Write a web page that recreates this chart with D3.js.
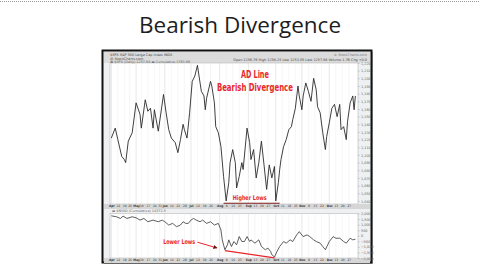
<!DOCTYPE html>
<html>
<head>
<meta charset="utf-8">
<script src="https://cdn.jsdelivr.net/npm/d3@7/dist/d3.min.js"></script>
<style>
  html, body { margin: 0; padding: 0; background: #fff; }
  svg { display: block; }
</style>
</head>
<body>
<svg id="slide" width="480" height="270"></svg>
<script>
// S&P 500 close, trading day index counted from Apr 1
var priceDays = [1,4,6,9,11,12,14,17,20,23,24,27,29,31,33,34,37,41,43,45,47,50,52,54,56,57,59,61,63,65,67,69,70,72,73,74,77,78,80,81,83,85,87,89,91,92,94,96,97,99,101,102,105,107,108,110,112,114,116,118,120,122,124,126,127,129,130,131,133,135,137,139,140,142,144,145,147,148,150,152,154,156,158,159,161,163,165,166,168,170,172,174,176,177,179,181,182,184,186,187,188];
var priceValues = [1122,1135,1120,1098,1094,1090,1118,1129,1168,1153,1135,1172,1157,1161,1135,1159,1131,1179,1155,1133,1122,1116,1103,1120,1140,1133,1122,1155,1196,1203,1217,1194,1183,1177,1159,1174,1196,1190,1168,1137,1129,1111,1072,1040,1064,1090,1107,1090,1057,1072,1090,1081,1135,1116,1094,1107,1070,1090,1118,1087,1055,1087,1070,1085,1040,1064,1081,1094,1111,1120,1133,1137,1146,1161,1190,1177,1159,1177,1194,1183,1170,1200,1185,1163,1155,1129,1107,1124,1142,1161,1166,1150,1166,1133,1137,1120,1144,1168,1177,1159,1177];

// NYSE Advance-Decline line (cumulative)
var adDays = [1,5,8,10,13,17,20,23,26,29,33,37,40,42,45,48,51,54,56,58,60,62,64,66,69,71,74,77,80,83,85,86,88,90,91,93,95,97,99,101,103,105,107,108,111,114,116,119,121,123,124,126,128,130,133,135,138,140,143,145,148,151,153,156,158,161,163,165,168,171,173,176,179,181,184,186,188];
var adValues = [1793,1704,1556,1763,1556,1704,1615,1407,1556,1259,1407,1259,1407,1259,963,1111,815,963,1259,1111,1111,1407,1556,1407,1259,1407,1111,1259,963,1111,518,-370,-1259,-815,-370,-963,-519,-815,-74,-519,-519,-74,-519,-370,-667,-370,-963,-1259,-1111,-1407,-1704,-1911,-1407,-963,-519,-667,-370,-519,74,370,-74,74,-74,-370,-519,-667,-963,-1259,-519,-74,-222,-222,-519,-667,-222,-370,-311];

// date axis
var axisDays = [1,6,11,15,20,24,29,34,38,42,47,52,57,62,67,72,77,84,89,94,99,106,111,116,121,127,132,137,142,147,152,157,162,168,173,178,183];
var axisLabels = ["Apr","12","19","26","May","10","17","24","31","Jun","14","21","28","Jul","12","19","26","Aug","9","16","23","Sep","13","20","27","Oct","11","18","25","Nov","8","15","22","Dec","13","20","27"];
var monthLabels = ["Apr","May","Jun","Jul","Aug","Sep","Oct","Nov","Dec"];

var priceTicks = [1040,1050,1060,1070,1080,1090,1100,1110,1120,1130,1140,1150,1160,1170,1180,1190,1200,1210,1220];
var adTicks = [-2000,-1500,-1000,-500,0,500,1000,1500,2000];

var svg = d3.select("#slide");
var red = "#e8262b";

// dotted rule at the top of the slide
svg.append("line")
    .attr("x1", 0).attr("x2", 480).attr("y1", 1.5).attr("y2", 1.5)
    .attr("stroke", "#999").attr("stroke-width", 1)
    .attr("stroke-dasharray", "1,1");

svg.append("text")
    .attr("x", 240).attr("y", 33)
    .attr("text-anchor", "middle")
    .attr("font-family", "'Open Sans', sans-serif")
    .attr("font-size", 22.5)
    .attr("fill", "#1e1e1e")
    .text("Bearish Divergence");

// chart frame
svg.append("rect")
    .attr("x", 104).attr("y", 52).attr("width", 269).attr("height", 212)
    .attr("fill", "#bbb");
svg.append("rect")
    .attr("x", 102.5).attr("y", 50.5).attr("width", 269).attr("height", 212)
    .attr("fill", "#eef0f2").attr("stroke", "#111").attr("stroke-width", 2);
svg.append("rect")
    .attr("x", 104).attr("y", 52).attr("width", 266).attr("height", 11)
    .attr("fill", "#dcdcdc");

var x = d3.scaleLinear().domain([0, 190]).range([110, 358]);
var yP = d3.scaleLinear().domain([1036, 1220]).range([204, 63]);
var yA = d3.scaleLinear().domain([-2000, 2000]).range([258, 213.5]);

function panel(top, bottom) {
  svg.append("rect")
      .attr("x", x.range()[0]).attr("y", top)
      .attr("width", x.range()[1] - x.range()[0]).attr("height", bottom - top)
      .attr("fill", "#fff").attr("stroke", "#aaa").attr("stroke-width", 0.5);
  svg.append("g").selectAll("line")
      .data(axisDays)
      .enter().append("line")
      .attr("x1", function(d) { return x(d); })
      .attr("x2", function(d) { return x(d); })
      .attr("y1", top).attr("y2", bottom)
      .attr("stroke", function(d, i) { return monthLabels.indexOf(axisLabels[i]) >= 0 ? "#d0d0d0" : "#ececec"; })
      .attr("stroke-width", 0.5);
}

function dateAxis(yPos) {
  svg.append("rect")
      .attr("x", 104).attr("y", yPos).attr("width", 266).attr("height", 5)
      .attr("fill", "#d6d6d6");
  var g = svg.append("g")
      .attr("transform", "translate(0," + yPos + ")")
      .call(d3.axisBottom(x).tickValues(axisDays)
        .tickFormat(function(d, i) { return axisLabels[i]; })
        .tickSize(0).tickPadding(1));
  g.select(".domain").remove();
  g.selectAll("text")
      .attr("font-family", "'DejaVu Sans Condensed', sans-serif")
      .attr("font-size", 3.2)
      .attr("font-weight", function(d, i) { return monthLabels.indexOf(axisLabels[i]) >= 0 ? "bold" : "normal"; })
      .attr("fill", "#333");
}

function valueAxis(scale, ticks) {
  var g = svg.append("g")
      .attr("transform", "translate(" + x.range()[1] + ",0)")
      .call(d3.axisRight(scale).tickValues(ticks).tickSize(1.5).tickPadding(1.5));
  g.select(".domain").remove();
  g.selectAll("line").attr("stroke", "#999").attr("stroke-width", 0.5);
  g.selectAll("text")
      .attr("font-family", "'DejaVu Sans', sans-serif")
      .attr("font-size", 3.4)
      .attr("fill", "#666");
}

panel(63, 204);
panel(213.5, 258);
dateAxis(204);
dateAxis(258);
valueAxis(yP, priceTicks);
valueAxis(yA, adTicks);

// header text strip
var small = function(xp, yp, t, anchor, col) {
  svg.append("text")
      .attr("x", xp).attr("y", yp)
      .attr("text-anchor", anchor || "start")
      .attr("font-family", "'DejaVu Sans', sans-serif")
      .attr("font-size", 3.4)
      .attr("fill", col || "#444")
      .text(t);
};
small(110, 56, "$SPX S&P 500 Large Cap Index  INDX");
small(110, 59.5, "@ StockCharts.com");
small(110, 62.5, "\u25AC $SPX (Daily) 1257.64   \u25AC Cumulative 1763.96", "start", "#666");
small(367, 56, "\u00A9 StockCharts.com", "end", "#777");
small(367, 60.5, "Open 1256.76 High 1258.25 Low 1253.05 Last 1257.64 Volume 1.7B Chg +0.0", "end");
small(112, 212.3, "\u25AC $NYAD (Cumulative) 14372.5", "start", "#666");

var line = function(sx, sy) {
  return d3.line()
      .x(function(d) { return sx(d[0]); })
      .y(function(d) { return sy(d[1]); });
};

svg.append("path")
    .datum(d3.zip(priceDays, priceValues))
    .attr("fill", "none")
    .attr("stroke", "#2a2a2a")
    .attr("stroke-width", 0.9)
    .attr("stroke-linejoin", "round")
    .attr("d", line(x, yP));

svg.append("path")
    .datum(d3.zip(adDays, adValues))
    .attr("fill", "none")
    .attr("stroke", "#2a2a2a")
    .attr("stroke-width", 0.75)
    .attr("stroke-linejoin", "round")
    .attr("d", line(x, yA));

// annotations
var noteFont = "'DejaVu Sans Condensed', 'Liberation Sans Narrow', sans-serif";
function note(day, value, sy, t, size, len) {
  svg.append("text")
      .attr("x", x(day)).attr("y", sy(value))
      .attr("text-anchor", "middle")
      .attr("font-family", noteFont)
      .attr("font-weight", "bold")
      .attr("font-size", size)
      .attr("textLength", len)
      .attr("lengthAdjust", "spacingAndGlyphs")
      .attr("fill", red)
      .text(t);
}
note(111, 1200, yP, "AD Line", 10, 28);
note(111, 1183, yP, "Bearish Divergence", 10, 76);
note(107, 1041, yP, "Higher Lows", 6.5, 34);
note(53, -760, yA, "Lower Lows", 6.5, 32);

var higherLows = [[87, 1037], [130, 1037]];
svg.append("path")
    .datum(higherLows)
    .attr("stroke", "#7a1a1a").attr("stroke-width", 1.1)
    .attr("d", line(x, yP));

var lowerLows = [[88, -1330], [126, -1980]];
svg.append("path")
    .datum(lowerLows)
    .attr("stroke", red).attr("stroke-width", 1.3)
    .attr("d", line(x, yA));

svg.append("defs").append("marker")
    .attr("id", "head").attr("viewBox", "0 0 10 10")
    .attr("refX", 9).attr("refY", 5)
    .attr("markerWidth", 4).attr("markerHeight", 4)
    .attr("orient", "auto")
  .append("path").attr("d", "M0,0L10,5L0,10z").attr("fill", "#6a1010");

var arrow = [[67, -580], [82, -1100]];
svg.append("path")
    .datum(arrow)
    .attr("stroke", red).attr("stroke-width", 1)
    .attr("marker-end", "url(#head)")
    .attr("d", line(x, yA));
</script>
</body>
</html>
